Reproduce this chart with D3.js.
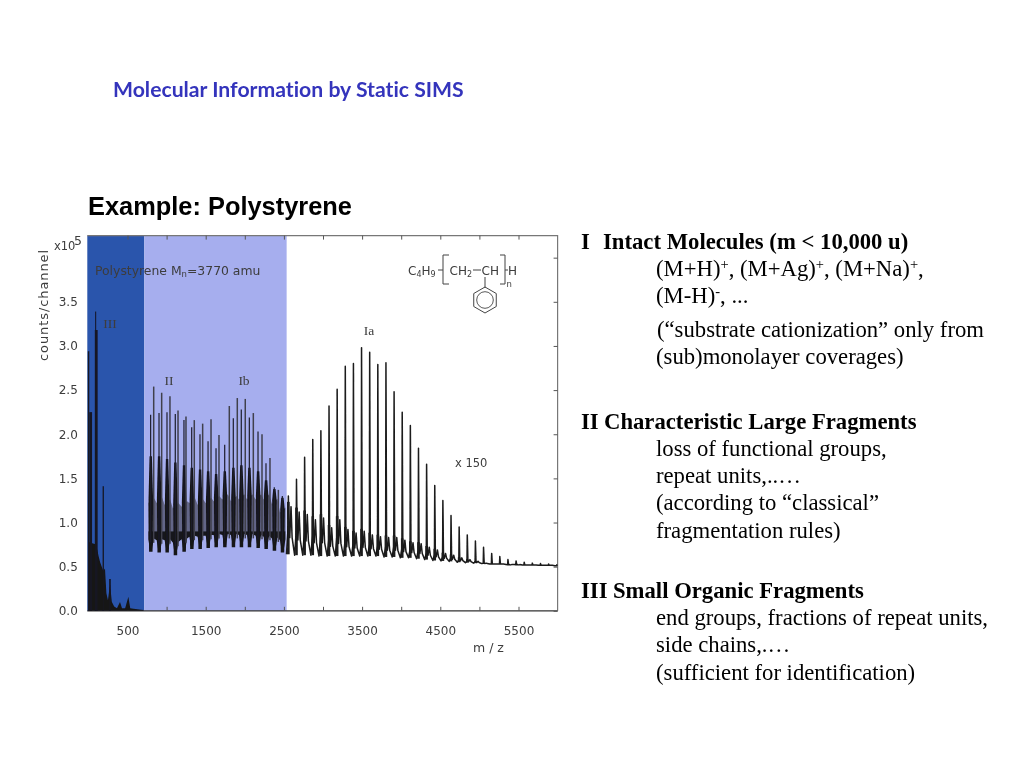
<!DOCTYPE html>
<html><head><meta charset="utf-8">
<script src="https://cdn.jsdelivr.net/npm/d3@7/dist/d3.min.js"></script>
<style>html,body{margin:0;background:#fff}svg{display:block}</style></head>
<body><svg id="c" width="1024" height="768"></svg>
<script>
// ---------- data ----------
const xTicks=[500,1000,1500,2000,2500,3000,3500,4000,4500,5000,5500];
const yTicks=[0,0.5,1,1.5,2,2.5,3,3.5];
const regionEdges=[0,715,2535];
// low-mass envelope (region III)
const lowMass=[0,100,130,150,190,212,230,250,276,300,330,365,404,430,470,511,535,600,705];
const lowEnv=[0.78,0.75,0.62,0.55,0.45,0.48,0.2,0.12,0.3,0.1,0.05,0.03,0.1,0.03,0.03,0.16,0.03,0.02,0.01];
const lowSpikeMass=[2,29,93,100,190,276];
const lowSpikeVal=[2.94,2.25,3.39,3.18,1.41,0.36];
const lowSpikeWidth=[1.4,2.8,1,2.8,1.3,1.6];
// region II / Ib, two spike families
const aMass=[796,903,1005,1111,1222,1321,1427,1530,1632,1743,1853,1955,2058,2169,2271,2377,2480];
const aVal=[2.22,2.24,2.25,2.23,2.16,2.08,2.0,1.92,1.84,1.88,2.18,2.28,2.19,2.03,1.67,1.4,1.3];
const bMass=[835,937,1043,1146,1248,1354,1461,1568,1670,1802,1904,2006,2109,2220,2322,2429];
const bVal=[2.54,2.47,2.43,2.27,2.20,2.16,2.12,2.17,1.99,2.32,2.41,2.40,2.24,2.0,1.73,1.37];
const clusterTop=[1.75,1.75,1.72,1.68,1.65,1.62,1.6,1.58,1.55,1.58,1.62,1.65,1.62,1.58,1.48,1.38,1.28];
const clusterLow=[0.67,0.66,0.66,0.63,0.67,0.70,0.70,0.71,0.72,0.72,0.72,0.72,0.72,0.71,0.70,0.68,0.66];
const bandTop=[1.26,1.26,1.24,1.2,1.22,1.26,1.24,1.26,1.28,1.3,1.28,1.3,1.3,1.3,1.3,1.25,1.15];
// region Ia
const iaMass=[2557,2661,2765,2869,2973,3077,3181,3285,3389,3493,3597,3701,3805,3909,4013,4117,4221,4325,4429,4533,4637,4741,4845,4949,5053,5157,5261,5365,5469,5573,5677,5781,5885,5989];
const iaPeak=[1.3,1.49,1.74,1.94,2.04,2.32,2.51,2.77,2.80,2.98,2.93,2.79,2.81,2.48,2.25,2.10,1.84,1.66,1.42,1.25,1.08,0.95,0.86,0.79,0.72,0.65,0.615,0.58,0.565,0.55,0.54,0.535,0.53,0.52];
const iaMinor=[1.18,1.12,1.09,1.03,1.05,0.94,1.03,0.92,0.88,0.90,0.86,0.84,0.83,0.83,0.80,0.77,0.76,0.72,0.69,0.65,0.63,0.60,0.58,0.56,0.54,0.53,0.53,0.52,0.52,0.52,0.52,0.515,0.515,0.51];
const iaTrough=[0.64,0.63,0.63,0.63,0.62,0.62,0.62,0.62,0.62,0.62,0.62,0.62,0.61,0.61,0.60,0.60,0.59,0.58,0.57,0.565,0.56,0.55,0.545,0.54,0.535,0.53,0.53,0.525,0.525,0.52,0.52,0.515,0.515,0.51];
// text
const titleText="Molecular Information by Static SIMS";
const exampleText="Example: Polystyrene";
const heads=[["I","Intact Molecules (m < 10,000 u)"],["II","Characteristic Large Fragments"],["III","Small Organic Fragments"]];
const body1=["(M+H)^+, (M+Ag)^+, (M+Na)^+,","(M-H)^-, ...","(“substrate cationization” only from","(sub)monolayer coverages)"];
const body2=["loss of functional groups,","repeat units,..…","(according to “classical”","fragmentation rules)"];
const body3=["end groups, fractions of repeat units,","side chains,.…","(sufficient for identification)"];

// ---------- scales ----------
const svg=d3.select("#c");
const x=d3.scaleLinear().domain([0,6000]).range([88.4,557.6]);
const y=d3.scaleLinear().domain([0,4.25]).range([610.8,235.6]);
const defs=svg.append("defs");
defs.append("filter").attr("id","soft").append("feGaussianBlur").attr("stdDeviation",0.35);
const chart=svg.append("g").attr("filter","url(#soft)");
const ink="#3c3c3c";
const L=x(0)-1.1,R=x(6000),T=y(4.25),B=y(0);

// regions
const regionFill=["#2c55ac","#a6aeee"];
chart.selectAll("rect.reg").data(regionFill).join("rect")
 .attr("x",(d,i)=>i?x(regionEdges[1]):L).attr("y",T)
 .attr("width",(d,i)=>x(regionEdges[i+1])-(i?x(regionEdges[1]):L)).attr("height",B-T).attr("fill",d=>d);

// frame
chart.append("path").attr("d",`M${L},${T}H${R}V${B}`).attr("fill","none").attr("stroke","#777").attr("stroke-width",1.2);
chart.append("line").attr("x1",L).attr("x2",R).attr("y1",B).attr("y2",B).attr("stroke","#333").attr("stroke-width",1.2);

// axes
const fmtX=d=>(d%1000===500)?d:"";
const gb=chart.append("g").attr("transform",`translate(0,${B})`).call(d3.axisBottom(x).tickValues(xTicks).tickSize(-4).tickPadding(16).tickFormat(fmtX));
const gt=chart.append("g").attr("transform",`translate(0,${T})`).call(d3.axisTop(x).tickValues(xTicks).tickSize(-4).tickFormat(""));
const gl=chart.append("g").attr("transform",`translate(${L},0)`).call(d3.axisLeft(y).tickValues(yTicks).tickSize(0).tickPadding(9.5).tickFormat(d3.format(".1f")));
const gr=chart.append("g").attr("transform",`translate(${R},0)`).call(d3.axisRight(y).tickValues([...yTicks,4]).tickSize(-4).tickFormat(""));
[gb,gt,gl,gr].forEach(g=>{g.select(".domain").remove();g.selectAll("line").attr("stroke","#555");
 g.selectAll("text").attr("font-family","DejaVu Sans").attr("font-size",12).attr("fill",ink);});
gl.selectAll("line").remove();

// low-mass region
const lineGen=d3.line().x(d=>x(d[0])).y(d=>y(d[1]));
const area=d3.area().x(d=>x(d[0])).y0(d=>y(d[1])).y1(d=>y(d[2]));
chart.append("path").attr("d",area(lowMass.map((m,i)=>[m,0,lowEnv[i]]))).attr("fill","#161616");
chart.selectAll("line.low").data(lowSpikeMass).join("line")
 .attr("x1",d=>x(d)).attr("x2",d=>x(d)).attr("y1",B)
 .attr("y2",(d,i)=>y(lowSpikeVal[i])).attr("stroke","#141420")
 .attr("stroke-width",(d,i)=>lowSpikeWidth[i]);

// dense band, regions II / Ib
const grayPts=[],blackPts=[];
aMass.forEach((m,i)=>{
  grayPts.push([m-30,0.9,bandTop[i]-0.04],[m+40,0.9,bandTop[i]+0.02]);
  blackPts.push([m-30,clusterLow[i]+0.14,0.9],[m-8,clusterLow[i]+0.02,0.9],[m+16,clusterLow[i]+0.02,0.9],[m+40,clusterLow[i]+0.15,0.9]);
});
chart.append("path").attr("d",area(grayPts)).attr("fill","#3a3a48").attr("opacity",0.62);
chart.append("path").attr("d",area(blackPts)).attr("fill","#17171c");
chart.selectAll("path.tooth").data(aMass).join("path")
 .attr("fill","#131318")
 .attr("d",(m,i)=>lineGen([[m-20,clusterLow[i]],[m-27,bandTop[i]],[m-14,clusterTop[i]],[m+16,clusterTop[i]],[m+31,bandTop[i]],[m+24,clusterLow[i]]])+"Z");
const spike=(mass,vals,col,w)=>chart.append("g").selectAll("line").data(mass).join("line")
 .attr("x1",d=>x(d)).attr("x2",d=>x(d)).attr("y1",(d,i)=>y(clusterLow[i]+0.1))
 .attr("y2",(d,i)=>y(vals[i])).attr("stroke",col).attr("stroke-width",w);
spike(aMass,aVal,"#1c1c2c",1.2);
spike(bMass,bVal,"#3f3f4c",1.5);

// region Ia polyline
const iaPts=[];
iaMass.forEach((m,i)=>{
  const t=iaTrough[i],mi=iaMinor[i];
  iaPts.push([m-24,t]);
  iaPts.push([m-4,t+(mi-t)*0.55]);
  iaPts.push([m,iaPeak[i]]);
  iaPts.push([m+8,t+(mi-t)*0.5]);
  iaPts.push([m+18,t+(mi-t)*0.35]);
  iaPts.push([m+34,mi]);
  iaPts.push([m+48,t+(mi-t)*0.35]);
});
chart.append("path").attr("d",lineGen(iaPts.filter(p=>p[0]<=6000))).attr("fill","none").attr("stroke","#1a1a1a").attr("stroke-width",1.5).attr("stroke-linejoin","round");
chart.append("g").selectAll("line").data(iaMass).join("line")
 .attr("x1",d=>x(d)).attr("x2",d=>x(d)).attr("y1",(d,i)=>y(iaTrough[i]))
 .attr("y2",(d,i)=>y(iaTrough[i]+(iaMinor[i]-iaTrough[i])*1.1)).attr("stroke","#1a1a1a").attr("stroke-width",2.6);

// chart annotations
const sans=(t,px,py,s=12)=>chart.append("text").attr("x",px).attr("y",py).attr("font-family","DejaVu Sans").attr("font-size",s).attr("fill",ink).text(t);
const serif=(t,px,py,s=13.5)=>chart.append("text").attr("x",px).attr("y",py).attr("text-anchor","middle").attr("font-family","Liberation Serif").attr("font-size",s).attr("fill",ink).text(t);
sans("x10",54,250,11.5);
sans("5",74,245,12.5);
chart.append("text").attr("transform","translate(48,305) rotate(-90)").attr("text-anchor","middle").attr("font-family","DejaVu Sans").attr("font-size",13).attr("letter-spacing",0.9).attr("fill",ink).text("counts/channel");
const poly=sans("Polystyrene  M",95,275,12.4);
poly.append("tspan").attr("font-size",8.5).attr("dy",2).text("n");
poly.append("tspan").attr("dy",-2).text("=3770 amu");
sans("m / z",473,652,12.5);
sans("x 150",455,467,11.5);
serif("III",110,328);serif("II",169,385);serif("Ib",244,385);serif("Ia",369,335);

// polymer formula
const f=sans("C",408,275,12);
f.append("tspan").attr("font-size",8).attr("dy",2).text("4");
f.append("tspan").attr("dy",-2).text("H");
f.append("tspan").attr("font-size",8).attr("dy",2).text("9");
const f2=sans("CH",449.5,275,12);
f2.append("tspan").attr("font-size",8).attr("dy",2).text("2");
sans("CH",481.5,275,12);
sans("H",508,275,12);
sans("n",506.5,287,8.5);
const fp="#444";
const st=(d,w=1)=>chart.append("path").attr("d",d).attr("fill","none").attr("stroke",fp).attr("stroke-width",w);
st("M449,255H443V284H449");st("M500,255H505V284H500");
st("M438,270H443");st("M505,270H508");st("M473,270H481");st("M485,277V288");
const hex=d3.range(6).map(a=>{const t=Math.PI/3*a-Math.PI/2;return [485+13*Math.cos(t),300+13*Math.sin(t)];});
chart.append("path").attr("d",d3.line()(hex)+"Z").attr("fill","none").attr("stroke",fp).attr("stroke-width",1);
chart.append("circle").attr("cx",485).attr("cy",300).attr("r",8.3).attr("fill","none").attr("stroke",fp).attr("stroke-width",0.9);

// page text
svg.append("text").attr("x",113).attr("y",97).attr("font-family","Lato").attr("font-weight",700).attr("font-size",21.2).attr("style","font-variant-ligatures:none").attr("fill","#3434bc").text(titleText);
svg.append("text").attr("x",88).attr("y",215).attr("font-family","Liberation Sans").attr("font-weight",700).attr("font-size",25.4).attr("fill","#000").text(exampleText);
const headX=[603,604,613],headY=[249,429,598];
heads.forEach((h,i)=>{
  const g=svg.append("g").attr("font-family","Liberation Serif").attr("font-weight",700).attr("font-size",22.7);
  g.append("text").attr("x",581).attr("y",headY[i]).text(h[0]);
  g.append("text").attr("x",headX[i]).attr("y",headY[i]).text(h[1]);
});
function rich(line,px,py){
  const t=svg.append("text").attr("x",px).attr("y",py).attr("font-family","Liberation Serif").attr("font-size",22.7);
  let back=0;
  line.split(/\^(.)/).forEach((s,i)=>{
    const sp=t.append("tspan").text(s);
    if(i%2){sp.attr("dy",-7).attr("font-size",14.5);back=7;}
    else if(back){sp.attr("dy",back);back=0;}
  });
}
const y1=[276,303,337,364],x1=[656,656,657,656],y2=[456,483,510,538],y3=[625,652,680];
body1.forEach((l,i)=>rich(l,x1[i],y1[i]));
body2.forEach((l,i)=>rich(l,656,y2[i]));
body3.forEach((l,i)=>rich(l,656,y3[i]));
</script></body></html>
